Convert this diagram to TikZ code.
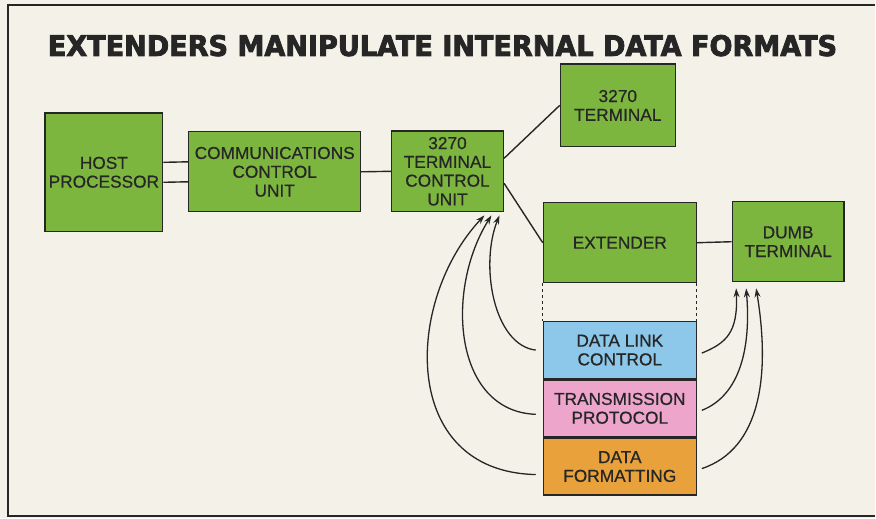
\documentclass[tikz,border=0pt]{standalone}
\usepackage{fontspec}
\usepackage{graphicx}
\setmainfont{Liberation Sans}[FakeBold=0.6]
\newfontfamily\titlefont{DejaVu Sans}[BoldFeatures={FakeBold=3}]
\usetikzlibrary{positioning, arrows.meta, calc}
\definecolor{paper}{HTML}{F4F1E8}
\definecolor{boxgreen}{HTML}{7DB63F}
\definecolor{linkblue}{HTML}{8DC7EA}
\definecolor{protopink}{HTML}{EDA5CC}
\definecolor{formatorange}{HTML}{E9A23B}
\definecolor{ink}{HTML}{262626}
\tikzset{
  unit/.style   = {rectangle, draw=ink, line width=1.3pt, fill=boxgreen,
                   inner sep=0pt, align=center, text=ink,
                   font=\fontsize{17.3}{18.8}\selectfont},
  layer/.style  = {unit, minimum width=153pt, minimum height=57pt},
  link/.style   = {draw=ink, line width=1.4pt},
  ar/.style     = {-{Stealth[length=9pt,width=6pt]}, line width=1.3pt, draw=ink},
}
\begin{document}
\begin{tikzpicture}[x=1pt, y=-1pt]

  \fill[paper] (0,0) rectangle (876,519);
  \draw[ink, line width=2pt] (876,5) -- (8,5) -- (8,517) -- (876,517);

  \node[anchor=base, inner sep=0pt, text=ink] (title) at (443,56)
       {\resizebox{790pt}{21pt}{\titlefont\bfseries EXTENDERS MANIPULATE INTERNAL DATA FORMATS}};

  \node[unit, minimum width=118pt, minimum height=119pt] (host) at (104,172.5) {HOST\\PROCESSOR};
  \node[unit, minimum width=172pt, minimum height=80pt] (ccu) at (275,172) {COMMUNICATIONS\\CONTROL\\UNIT};
  \node[unit, minimum width=112pt, minimum height=81pt] (tcu) at (448,171.5) {3270\\TERMINAL\\CONTROL\\UNIT};
  \node[unit, minimum width=115pt, minimum height=83pt] (term) at (618.5,105.5) {3270\\TERMINAL};
  \node[unit, minimum width=153pt, minimum height=80pt] (ext) at (620.5,243) {EXTENDER};
  \node[unit, minimum width=112pt, minimum height=80pt] (dumb) at (789,242) {DUMB\\TERMINAL};

  \node[layer, fill=linkblue] (dlc) at (620.5,350.5) {DATA LINK\\CONTROL};
  \node[layer, fill=protopink, below=0pt of dlc] (tp) {TRANSMISSION\\PROTOCOL};
  \node[layer, fill=formatorange, below=0pt of tp] (df) {DATA\\FORMATTING};

  \draw[link] ($(host.east)+(0,-10)$) -- ($(ccu.west)+(0,-10)$);
  \draw[link] ($(host.east)+(0,10)$) -- ($(ccu.west)+(0,10)$);
  \draw[link] (ccu.east) -- (tcu.west);
  \draw[link] ($(tcu.east)+(0,-13)$) -- (term.west);
  \draw[link] ($(tcu.east)+(0,12)$) -- (ext.west);
  \draw[link] (ext.east) -- (dumb.west);
  \draw[link, dashed, line width=0.8pt] (ext.south west) -- (dlc.north west);
  \draw[link, dashed, line width=0.8pt] (ext.south east) -- (dlc.north east);

  % layers back to the control unit
  \draw[ar] ($(dlc.west)+(-7,0)$) .. controls +(-42,-5) and +(-20,50) .. ($(tcu.south)+(52,3)$);
  \draw[ar] ($(tp.west)+(-7,6)$) .. controls +(-82,-3) and +(-47,75) .. ($(tcu.south)+(44,3)$);
  \draw[ar] ($(df.west)+(-7,8)$) .. controls +(-137,-3) and +(-80,85) .. ($(tcu.south)+(37,3)$);

  % layers to the dumb terminal
  \draw[ar] ($(dlc.east)+(5,3)$) .. controls +(24,-10) and +(2,45) .. ($(dumb.south)+(-52,6)$);
  \draw[ar] ($(tp.east)+(5,2)$) .. controls +(38,-15) and +(5,60) .. ($(dumb.south)+(-42,6)$);
  \draw[ar] ($(df.east)+(5,2)$) .. controls +(60,-20) and +(14,85) .. ($(dumb.south)+(-32,6)$);

\end{tikzpicture}
\end{document}
